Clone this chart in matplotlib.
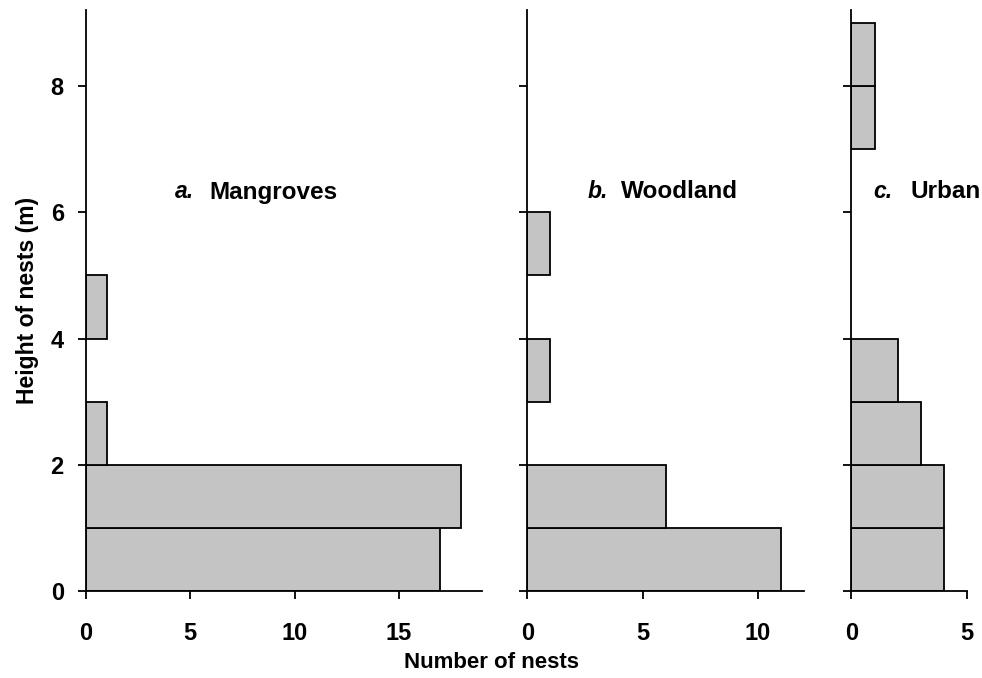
import numpy as np
import matplotlib
matplotlib.use("Agg")
import matplotlib.pyplot as plt

plt.rcParams['font.family'] = ['Liberation Sans', 'DejaVu Sans']
plt.rcParams['font.weight'] = 'bold'

# height classes (lower edge, m) and nest counts per habitat
heights = [0, 1, 2, 3, 4, 5, 6, 7, 8]
mangroves = [17, 18, 1, 0, 1, 0, 0, 0, 0]
woodland = [11, 6, 0, 1, 0, 1, 0, 0, 0]
urban = [4, 4, 3, 2, 0, 0, 0, 1, 1]

letters = ["a.", "b.", "c."]
names = ["Mangroves", "Woodland", "Urban"]
xmaxes = [19, 12, 5]
xticks = [[0, 5, 10, 15], [0, 5, 10], [0, 5]]

lefts = [0.0876, 0.537, 0.867]
rights = [0.491, 0.819, 0.985]
bottom, top = 0.128, 0.985
# label positions (figure pixels): letter x, name x
label_x = [(175, 209), (588, 621), (873, 911)]

fig = plt.figure(figsize=(9.82, 6.78), dpi=100)

for i, counts in enumerate([mangroves, woodland, urban]):
    ax = fig.add_axes([lefts[i], bottom, rights[i] - lefts[i], top - bottom])
    h = [y for y, c in zip(heights, counts) if c > 0]
    c = [c for c in counts if c > 0]
    ax.barh(h, c, height=1, align='edge', color='#c4c4c4',
            edgecolor='black', linewidth=1.3)
    ax.set_xlim(0, xmaxes[i])
    ax.set_ylim(0, 9.2)
    ax.set_xticks(xticks[i])
    ax.set_yticks([0, 2, 4, 6, 8])
    ax.spines['top'].set_visible(False)
    ax.spines['right'].set_visible(False)
    for s in ('left', 'bottom'):
        ax.spines[s].set_linewidth(1.3)
    ax.tick_params(direction='out', length=6, width=1.3, labelsize=17)
    ax.tick_params(axis='x', pad=16)
    ax.tick_params(axis='y', pad=10)
    if i > 0:
        ax.tick_params(labelleft=False)
    else:
        ax.set_ylabel("Height of nests (m)", fontsize=16.5, fontweight='bold',
                      labelpad=8)
    lx, nx = label_x[i]
    fig.text(lx / 982, 1 - 192 / 678, letters[i], style='italic', fontsize=16.5,
             fontweight='bold', va='center')
    fig.text(nx / 982, 1 - 192 / 678, names[i], fontsize=17.5,
             fontweight='bold', va='center')

fig.text(492 / 982, 1 - 663 / 678, "Number of nests", ha='center', va='center',
         fontsize=16, fontweight='bold')

fig.savefig("out.png", dpi=100)
